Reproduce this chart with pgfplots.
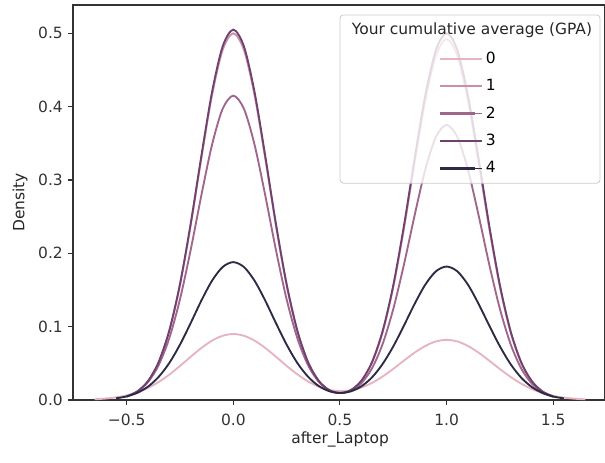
\documentclass[border=0pt]{standalone}
\usepackage{fontspec}
\setmainfont{DejaVu Sans}
\usepackage{pgfplots}
\pgfplotsset{compat=1.18}
\definecolor{c0}{HTML}{E6B3C1}
\definecolor{c1}{HTML}{CC8DA8}
\definecolor{c2}{HTML}{A0668C}
\definecolor{c3}{HTML}{6E416F}
\definecolor{c4}{HTML}{2D2A45}
\definecolor{spine}{HTML}{333333}
\begin{document}
\fontsize{11.6}{14}\selectfont
\begin{tikzpicture}
\path[use as bounding box] (-54.75pt,-46.5pt) rectangle (399pt,300pt);
\begin{axis}[
  scale only axis,
  width=399pt, height=296.25pt,
  xmin=-0.7515, xmax=1.7426,
  ymin=0, ymax=0.5386,
  axis line style={spine, line width=0.8pt},
  tick align=outside,
  tick style={spine, line width=0.8pt},
  major tick length=3.6pt,
  xtick={-0.5,0,0.5,1,1.5},
  xticklabels={−0.5,0.0,0.5,1.0,1.5},
  ytick={0,0.1,0.2,0.3,0.4,0.5},
  yticklabels={0.0,0.1,0.2,0.3,0.4,0.5},
  xtick pos=bottom, ytick pos=left,
  ticklabel style={font=\fontsize{11.6}{14}\selectfont, text=black!80},
  xticklabel style={yshift=-3pt},
  xlabel={after\_Laptop},
  ylabel={Density},
  label style={font=\fontsize{11.6}{14}\selectfont, text=black!85},
  xlabel style={at={(axis description cs:0.502,-0.101)}, anchor=center},
  ylabel style={at={(axis description cs:-0.0996,0.5)}, anchor=center, rotate=0},
  every axis plot/.append style={line width=1.4pt, mark=none, smooth, tension=0.5},
  legend style={at={(axis description cs:0.688,0.889)}, anchor=north west,
    draw=none, fill=none, font=\fontsize{11.6}{14}\selectfont, row sep=6.3pt, inner sep=0pt},
  legend cell align=left,
  legend image code/.code={\draw[#1, line width=1.7pt] (0cm,0cm) -- (0.9cm,0cm);\path (0.9cm,0cm) -- (1.1cm,0cm);},
]
% GPA 0
\addplot[c0] coordinates {
(-0.65,0.0010) (-0.60,0.0020) (-0.55,0.0036) (-0.50,0.0063) (-0.45,0.0105) (-0.40,0.0165)
(-0.35,0.0245) (-0.30,0.0346) (-0.25,0.0464) (-0.20,0.0589) (-0.15,0.0709) (-0.10,0.0809)
(-0.05,0.0876) (0.00,0.0900) (0.05,0.0876) (0.10,0.0809) (0.15,0.0709) (0.20,0.0590)
(0.25,0.0466) (0.30,0.0351) (0.35,0.0254) (0.40,0.0183) (0.45,0.0138) (0.50,0.0121)
(0.55,0.0132) (0.60,0.0170) (0.65,0.0233) (0.70,0.0320) (0.75,0.0425) (0.80,0.0537)
(0.85,0.0646) (0.90,0.0737) (0.95,0.0799) (1.00,0.0820) (1.05,0.0799) (1.10,0.0737)
(1.15,0.0646) (1.20,0.0536) (1.25,0.0422) (1.30,0.0315) (1.35,0.0223) (1.40,0.0150)
(1.45,0.0096) (1.50,0.0058) (1.55,0.0033) (1.60,0.0018) (1.65,0.0009)
};
\addlegendentry{0}
% GPA 1
\addplot[c1] coordinates {
(-0.50,0.0048) (-0.45,0.0116) (-0.40,0.0256) (-0.35,0.0513) (-0.30,0.0939) (-0.25,0.1565)
(-0.20,0.2377) (-0.15,0.3291) (-0.10,0.4152) (-0.05,0.4773) (0.00,0.5000) (0.05,0.4773)
(0.10,0.4152) (0.15,0.3291) (0.20,0.2377) (0.25,0.1565) (0.30,0.0940) (0.35,0.0515)
(0.40,0.0262) (0.45,0.0127) (0.50,0.0095) (0.55,0.0132) (0.60,0.0257) (0.65,0.0507)
(0.70,0.0924) (0.75,0.1540) (0.80,0.2339) (0.85,0.3238) (0.90,0.4086) (0.95,0.4697)
(1.00,0.4920) (1.05,0.4697) (1.10,0.4086) (1.15,0.3238) (1.20,0.2339) (1.25,0.1540)
(1.30,0.0924) (1.35,0.0505) (1.40,0.0251) (1.45,0.0114) (1.50,0.0047)
};
\addlegendentry{1}
% GPA 2
\addplot[c2] coordinates {
(-0.50,0.0050) (-0.45,0.0115) (-0.40,0.0244) (-0.35,0.0475) (-0.30,0.0844) (-0.25,0.1373)
(-0.20,0.2044) (-0.15,0.2787) (-0.10,0.3477) (-0.05,0.3970) (0.00,0.4150) (0.05,0.3970)
(0.10,0.3477) (0.15,0.2787) (0.20,0.2044) (0.25,0.1373) (0.30,0.0845) (0.35,0.0477)
(0.40,0.0250) (0.45,0.0133) (0.50,0.0095) (0.55,0.0124) (0.60,0.0228) (0.65,0.0431)
(0.70,0.0763) (0.75,0.1241) (0.80,0.1847) (0.85,0.2518) (0.90,0.3142) (0.95,0.3588)
(1.00,0.3750) (1.05,0.3588) (1.10,0.3142) (1.15,0.2518) (1.20,0.1847) (1.25,0.1241)
(1.30,0.0762) (1.35,0.0429) (1.40,0.0221) (1.45,0.0104) (1.50,0.0045)
};
\addlegendentry{2}
% GPA 3
\addplot[c3] coordinates {
(-0.50,0.0048) (-0.45,0.0117) (-0.40,0.0258) (-0.35,0.0518) (-0.30,0.0948) (-0.25,0.1581)
(-0.20,0.2401) (-0.15,0.3324) (-0.10,0.4194) (-0.05,0.4821) (0.00,0.5050) (0.05,0.4821)
(0.10,0.4194) (0.15,0.3324) (0.20,0.2401) (0.25,0.1581) (0.30,0.0949) (0.35,0.0520)
(0.40,0.0264) (0.45,0.0135) (0.50,0.0096) (0.55,0.0134) (0.60,0.0262) (0.65,0.0515)
(0.70,0.0940) (0.75,0.1565) (0.80,0.2377) (0.85,0.3291) (0.90,0.4152) (0.95,0.4773)
(1.00,0.5000) (1.05,0.4773) (1.10,0.4152) (1.15,0.3291) (1.20,0.2377) (1.25,0.1565)
(1.30,0.0939) (1.35,0.0513) (1.40,0.0256) (1.45,0.0116) (1.50,0.0048)
};
\addlegendentry{3}
% GPA 4
\addplot[c4] coordinates {
(-0.55,0.0023) (-0.50,0.0049) (-0.45,0.0098) (-0.40,0.0182) (-0.35,0.0315) (-0.30,0.0505)
(-0.25,0.0755) (-0.20,0.1048) (-0.15,0.1354) (-0.10,0.1625) (-0.05,0.1813) (0.00,0.1880)
(0.05,0.1813) (0.10,0.1625) (0.15,0.1354) (0.20,0.1048) (0.25,0.0755) (0.30,0.0506)
(0.35,0.0319) (0.40,0.0192) (0.45,0.0120) (0.50,0.0096) (0.55,0.0117) (0.60,0.0186)
(0.65,0.0308) (0.70,0.0491) (0.75,0.0731) (0.80,0.1015) (0.85,0.1310) (0.90,0.1573)
(0.95,0.1755) (1.00,0.1820) (1.05,0.1755) (1.10,0.1573) (1.15,0.1310) (1.20,0.1015)
(1.25,0.0731) (1.30,0.0489) (1.35,0.0304) (1.40,0.0176) (1.45,0.0095) (1.50,0.0047)
(1.55,0.0022)
};
\addlegendentry{4}
\draw[draw=black!20, line width=0.6pt, fill=white, fill opacity=0.8, rounded corners=2.5pt]
  (axis description cs:0.502,0.549) rectangle (axis description cs:0.9906,0.9747);
\node[font=\fontsize{11.6}{14}\selectfont, text=black!85] at (axis description cs:0.75,0.935) {Your cumulative average (GPA)};
\draw[spine, line width=0.8pt] (axis description cs:0,1) -- (axis description cs:1,1);
\end{axis}
\end{tikzpicture}
\end{document}
